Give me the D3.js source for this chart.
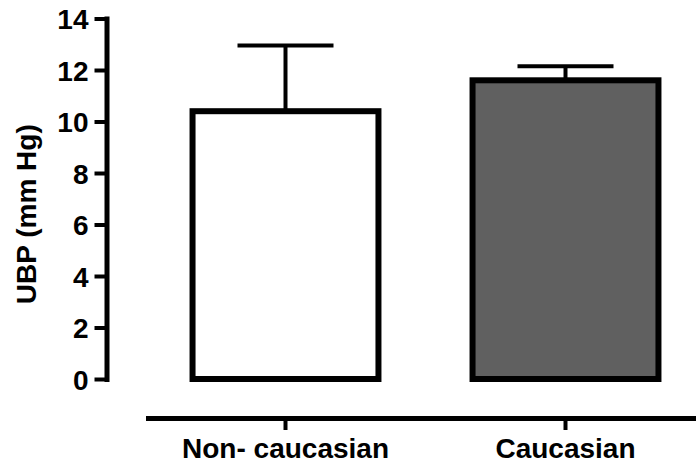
<!DOCTYPE html>
<html>
<head>
<meta charset="utf-8">
<script src="https://cdn.jsdelivr.net/npm/d3@7"></script>
<style>
  body { margin: 0; background: #fff; }
  text { font-family: "Liberation Sans", Arial, sans-serif; font-weight: bold; }
</style>
</head>
<body>
<div id="chart"></div>
<script>
// data
var groups = ["Non- caucasian", "Caucasian"]
var means = [10.4, 11.6]
var errors = [2.55, 0.55]
var yTicks = [0, 2, 4, 6, 8, 10, 12, 14]
var yTitle = "UBP (mm Hg)"
var fills = ["#ffffff", "#606060"]

var width = 696, height = 463

var svg = d3.select("#chart")
    .append("svg")
    .attr("width", width)
    .attr("height", height)

// scales
var x = d3.scaleBand()
    .domain(groups)
    .range([145.5, 705.5])
    .paddingInner(0.336)
    .paddingOuter(0.168)

var y = d3.scaleLinear()
    .domain([0, 14])
    .range([379, 18.5])

// Y axis
var yAxis = svg.append("g")
    .attr("transform", "translate(106.5,0)")
    .call(d3.axisLeft(y).tickValues(yTicks).tickSize(12).tickSizeOuter(0).tickPadding(6))
yAxis.select(".domain")
    .attr("stroke-width", 5)
    .attr("stroke-linecap", "square")
yAxis.selectAll(".tick line").attr("stroke-width", 4)
yAxis.selectAll(".tick text")
    .attr("font-size", 28)
    .attr("fill", "#000")
    .attr("dy", "0.36em")

// X axis
var xAxis = svg.append("g")
    .attr("transform", "translate(0,418)")
    .call(d3.axisBottom(x).tickSize(12).tickSizeOuter(0).tickPadding(8))
xAxis.select(".domain").attr("stroke-width", 5)
xAxis.selectAll(".tick line").attr("stroke-width", 4)
xAxis.selectAll(".tick text")
    .attr("font-size", 28)
    .attr("fill", "#000")

// y title
svg.append("text")
    .attr("transform", "translate(36," + y(6.4) + ") rotate(-90)")
    .attr("text-anchor", "middle")
    .attr("font-size", 28)
    .text(yTitle)

// error bars (drawn before bars so stem hides under the top edge)
var capHalf = 48
groups.forEach(function (g, i) {
    var cx = x(g) + x.bandwidth() / 2
    svg.append("line")
        .attr("x1", cx).attr("x2", cx)
        .attr("y1", y(means[i])).attr("y2", y(means[i] + errors[i]))
        .attr("stroke", "#000").attr("stroke-width", 4)
    svg.append("line")
        .attr("x1", cx - capHalf).attr("x2", cx + capHalf)
        .attr("y1", y(means[i] + errors[i])).attr("y2", y(means[i] + errors[i]))
        .attr("stroke", "#000").attr("stroke-width", 4)
})

// bars
svg.selectAll("rect.bar")
    .data(groups)
    .enter()
    .append("rect")
    .attr("class", "bar")
    .attr("x", function (d) { return x(d); })
    .attr("y", function (d, i) { return y(means[i]); })
    .attr("width", x.bandwidth())
    .attr("height", function (d, i) { return y(0) - y(means[i]); })
    .attr("fill", function (d, i) { return fills[i]; })
    .attr("stroke", "#000")
    .attr("stroke-width", 6)
</script>
</body>
</html>
